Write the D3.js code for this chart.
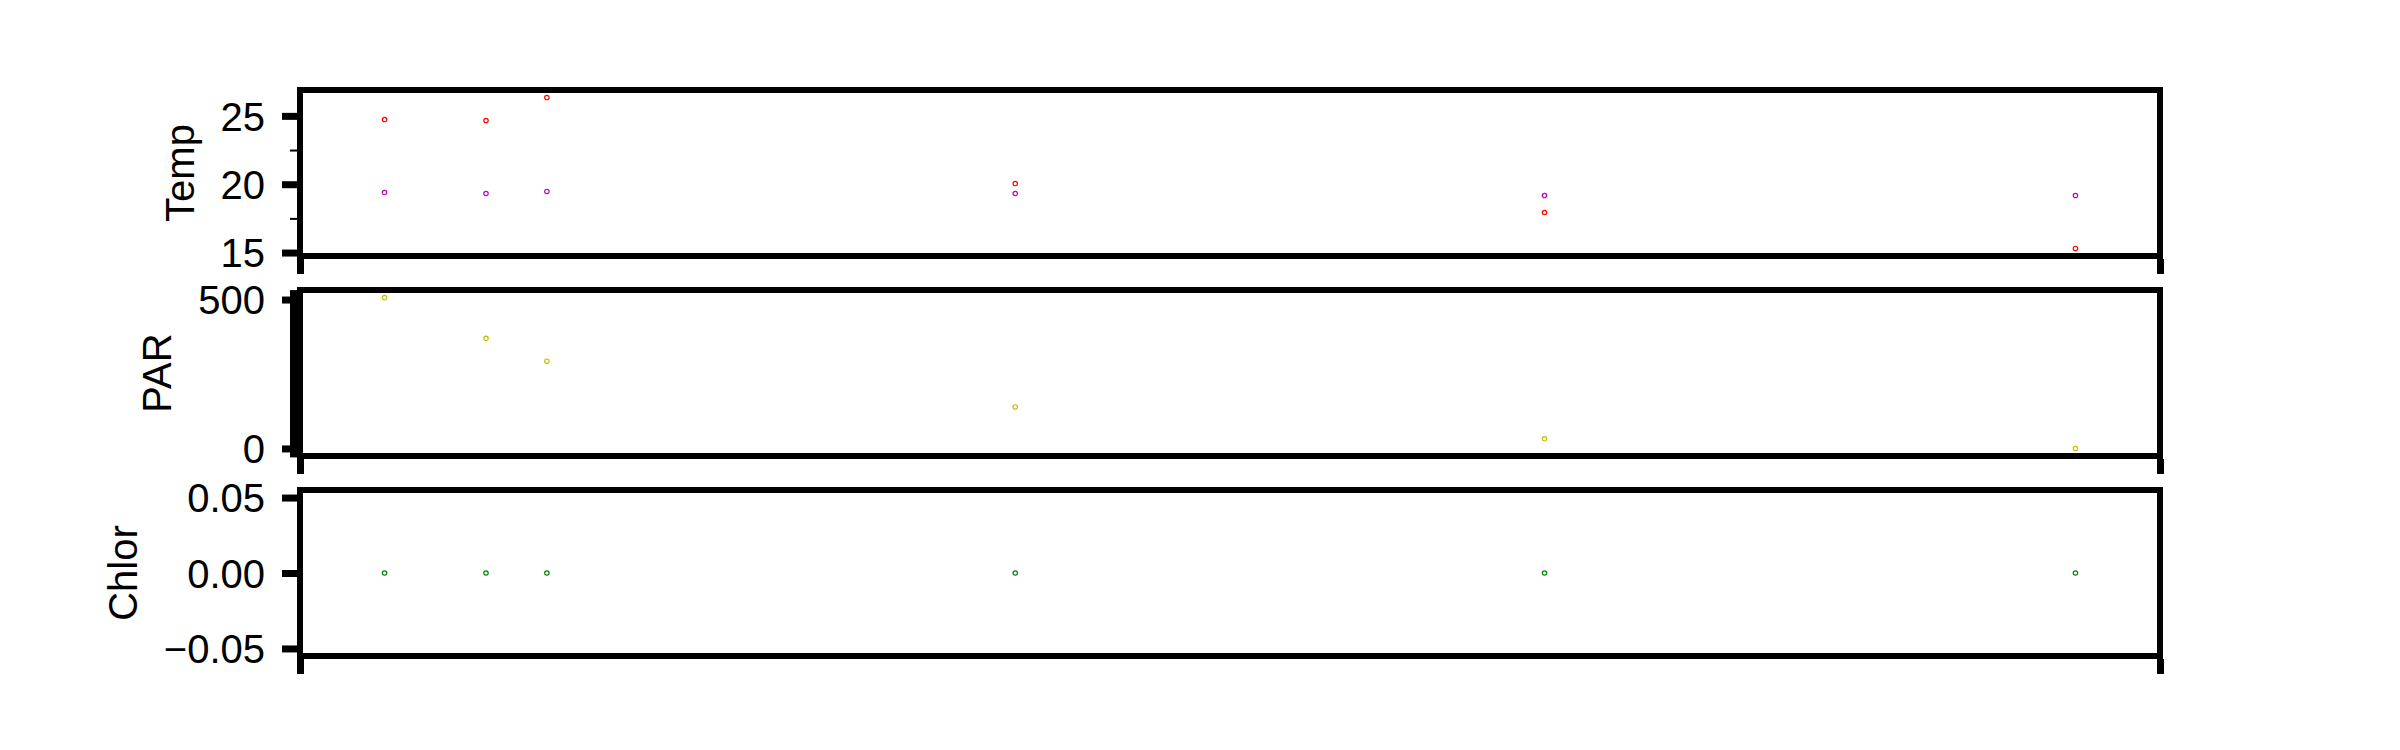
<!DOCTYPE html>
<html>
<head>
<meta charset="utf-8">
<script src="https://cdn.jsdelivr.net/npm/d3@7"></script>
<style>
  html, body { margin: 0; padding: 0; background: #fff; }
  svg text { font-family: "Liberation Sans", Arial, sans-serif; fill: #000; }
</style>
</head>
<body>
<svg id="chart" width="2400" height="750"></svg>
<script>
// ---- data ----
const sampleX   = [0, 6.0, 9.6, 37.3, 68.6, 100];   // sample positions along x
const tempRed   = [24.73, 24.66, 26.34, 20.05, 17.93, 15.30];
const tempMag   = [19.39, 19.32, 19.47, 19.32, 19.17, 19.17];
const parVals   = [506.7, 369.7, 293.0, 139.3, 32.4, 0.0];
const chlorVals = [0, 0, 0, 0, 0, 0];
const tempTicks  = [15, 20, 25];
const parTicks   = [0, 500];
const chlorTicks = [-0.05, 0.00, 0.05];
const minorStep  = 2.5;

const panels = [
  { label: "Temp",  series: [{v: tempRed, c: "#ff0000"}, {v: tempMag, c: "#bf00bf"}], ticks: tempTicks,  fmt: d3.format("d") },
  { label: "PAR",   series: [{v: parVals, c: "#bfbf00"}], ticks: parTicks,   fmt: d3.format("d") },
  { label: "Chlor", series: [{v: chlorVals, c: "#008000"}], ticks: chlorTicks, fmt: d => d3.format(".2f")(d).replace("-", "\u2212") }
];

// ---- layout ----
const left = 300, right = 2160;
const panelTop = [90, 290, 490], panelH = 166;
const svg = d3.select("#chart");

function autoDomain(vals) {
  let lo = d3.min(vals), hi = d3.max(vals);
  if (lo === hi) { lo -= 0.05; hi += 0.05; }
  const m = (hi - lo) * 0.05;
  return [lo - m, hi + m];
}
const x = d3.scaleLinear().domain(autoDomain(sampleX)).range([left, right]);

panels.forEach((p, i) => {
  const top = panelTop[i], bottom = top + panelH;
  const all = p.series.flatMap(s => s.v);
  const y = d3.scaleLinear().domain(autoDomain(all)).range([bottom, top]);
  const g = svg.append("g");

  // minor ticks (multiples of 2.5, not on majors)
  const [d0, d1] = y.domain();
  const minor = [];
  for (let k = Math.ceil(d0 / minorStep); k * minorStep <= d1; k++) {
    const v = k * minorStep;
    if (!p.ticks.some(t => Math.abs(t - v) < 1e-9)) minor.push(v);
  }
  const minorAxis = d3.axisLeft(y).tickValues(minor).tickSize(7).tickFormat("");
  const mg = g.append("g").attr("transform", `translate(${left - 3},0)`).call(minorAxis);
  mg.select(".domain").remove();
  mg.selectAll(".tick line").attr("stroke", "#000").attr("stroke-width", 2);

  // major y ticks
  const yAxis = d3.axisLeft(y).tickValues(p.ticks).tickSize(15).tickPadding(17).tickFormat(p.fmt);
  const yg = g.append("g").attr("transform", `translate(${left - 3},0)`).call(yAxis);
  yg.select(".domain").remove();
  yg.selectAll(".tick line").attr("stroke", "#000").attr("stroke-width", 7);
  yg.selectAll(".tick text").attr("font-size", 40).attr("fill", "#000")
    .attr("font-family", "Liberation Sans, Arial, sans-serif").attr("dy", "0.36em");

  // bottom x ticks at the axis ends (no labels)
  const xAxis = d3.axisBottom(x).tickValues(x.domain()).tickSize(15).tickFormat("");
  const xg = g.append("g").attr("transform", `translate(0,${bottom + 3})`).call(xAxis);
  xg.select(".domain").remove();
  xg.selectAll(".tick line").attr("stroke", "#000").attr("stroke-width", 7);

  // frame
  g.append("rect").attr("x", left).attr("y", top).attr("width", right - left).attr("height", panelH)
    .attr("fill", "none").attr("stroke", "#000").attr("stroke-width", 6);

  // points
  p.series.forEach(s => {
    g.selectAll(null).data(s.v).enter().append("circle")
      .attr("cx", (d, j) => x(sampleX[j])).attr("cy", d => y(d)).attr("r", 2.2)
      .attr("fill", "none").attr("stroke", s.c).attr("stroke-width", 1.2);
  });

  // y label
  let minX = Infinity;
  yg.selectAll(".tick text").each(function() {
    const b = this.getBBox();
    const m = this.parentNode.transform.baseVal.consolidate().matrix;
    minX = Math.min(minX, b.x + m.e + left - 3);
  });
  const lx = minX - 27, ly = top + panelH / 2;
  g.append("text").attr("transform", `translate(${lx},${ly}) rotate(-90)`)
    .attr("text-anchor", "middle").attr("font-size", 40).text(p.label);
});
</script>
</body>
</html>
